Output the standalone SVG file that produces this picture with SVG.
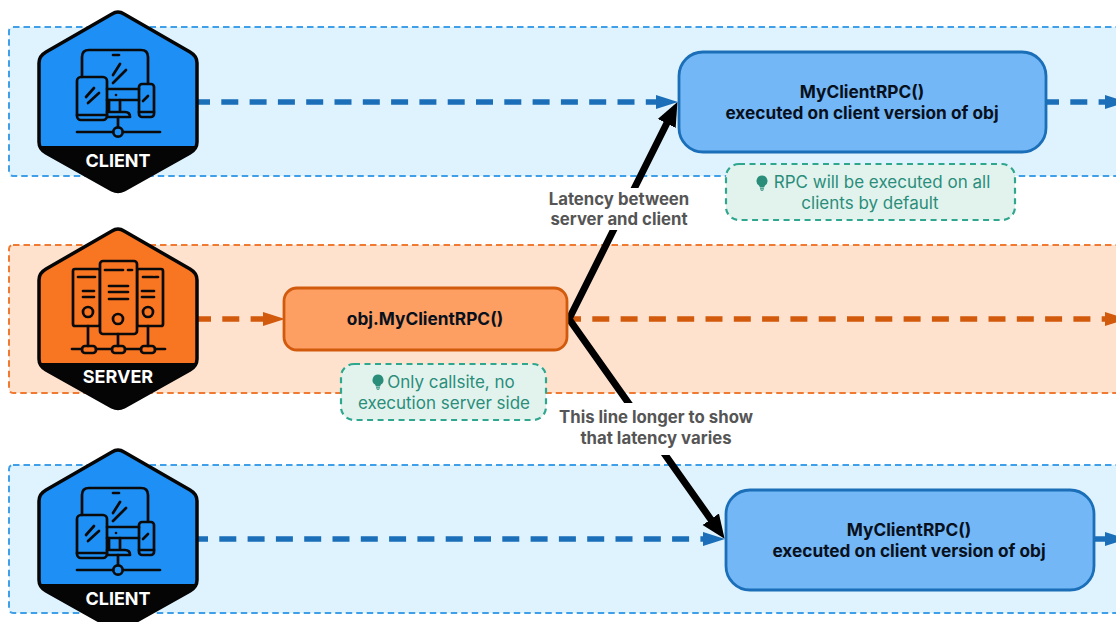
<svg xmlns="http://www.w3.org/2000/svg" width="1116" height="622" viewBox="0 0 1116 622">
<defs>
<style>
text{font-family:Inter,"Liberation Sans",sans-serif;text-anchor:middle}
.band-b{fill:#dff3fe;stroke:#3f9fe8;stroke-width:2;stroke-dasharray:6.500 4}
.band-o{fill:#ffe2ce;stroke:#f07a32;stroke-width:2;stroke-dasharray:6.500 4}
.hex{stroke:#050505;stroke-width:3.500;stroke-linejoin:round}
.ic{fill:none;stroke:#0a0a0a;stroke-width:2.700;stroke-linejoin:round;stroke-linecap:round}
.hl{font-size:18px;font-weight:700;fill:#fff}
.bb{fill:#73b7f6;stroke:#1a6fb8;stroke-width:2.800}
.bo{fill:#fd9e63;stroke:#d25a0c;stroke-width:2.800}
.bt{font-size:17.250px;font-weight:700;fill:#07101c}
.note{fill:#e2f3ee;stroke:#2fa78f;stroke-width:2.200;stroke-dasharray:6 4.500}
.nt{font-size:17px;fill:#2a8d7a}
.lat{font-size:16.750px;font-weight:700;fill:#555}
.db{fill:none;stroke:#1a6fb8;stroke-width:5.500;stroke-dasharray:17 11.300}
.do{fill:none;stroke:#d25a0c;stroke-width:5.500;stroke-dasharray:17 11.300}
.k{fill:none;stroke:#000;stroke-width:7;stroke-linecap:round}
.bulb{fill:#2a8d7a}
</style>
<marker id="ab" markerUnits="userSpaceOnUse" markerWidth="22" markerHeight="16" refX="2" refY="8" orient="auto"><path d="M0 1L22 8L0 15Z" fill="#1a6fb8"/></marker>
<marker id="ao" markerUnits="userSpaceOnUse" markerWidth="22" markerHeight="16" refX="2" refY="8" orient="auto"><path d="M0 1L22 8L0 15Z" fill="#d25a0c"/></marker>
<marker id="ak" markerUnits="userSpaceOnUse" markerWidth="24" markerHeight="22" refX="2" refY="11" orient="auto"><path d="M0 1L24 11L0 21Z" fill="#000"/></marker>
<path id="bulbIcon" class="bulb" d="M0-7.500a5.500 5.500 0 0 1 3 10.100L2 4.500H-2L-3 2.600A5.500 5.500 0 0 1 0-7.500ZM-2 5.300H2V6.500H-2ZM-1.200 7.200H1.200V8H-1.200Z"/>
<g id="clientIcon">
<path class="ic" d="M82 77V57Q82 50 89 50H141Q148 50 148 57V83M113 55H119M113 75L120 64M113 83L126 70M107 89H139M107 100H139"/>
<circle cx="116" cy="95" r="1.300" fill="#0a0a0a"/>
<path class="ic" d="M109 100V112M120 100V112M107 112H125Q130 112 130 117H107"/>
<rect class="ic" x="77" y="77" width="30" height="43" rx="4"/>
<path class="ic" d="M77 115H107M86 97L94 88M88 103L99 93"/>
<rect class="ic" x="139" y="84" width="15" height="33" rx="3"/>
<path class="ic" d="M139 112H154M143 101L148 96M118 117V127M77 132H113M123 132H160"/>
<circle class="ic" cx="118" cy="132" r="4.700"/>
</g>
</defs>
<g id="bands">
<rect class="band-b" x="9" y="27" width="1120" height="149" rx="4"/>
<rect class="band-o" x="9" y="245" width="1120" height="148" rx="4"/>
<rect class="band-b" x="9" y="465" width="1120" height="148" rx="4"/>
</g>
<g id="connectors">
<path class="db" d="M193 102H658" marker-end="url(#ab)"/>
<path class="db" d="M1042 102H1107" marker-end="url(#ab)"/>
<path class="do" d="M194 319H265" marker-end="url(#ao)"/>
<path class="do" d="M564 319H1107" marker-end="url(#ao)"/>
<path class="db" d="M191 539H705" marker-end="url(#ab)"/>
<path class="db" d="M1088 539H1107" marker-end="url(#ab)"/>
<path class="k" d="M569 319L667.600 121.800" marker-end="url(#ak)"/>
<path class="k" d="M569 319L711.900 520.900" marker-end="url(#ak)"/>
</g>
<g id="client-top">
<path class="hex" fill="#1e90f5" d="M112 14Q118 10 124 14L190 52Q197 56 197 63V142Q197 149 190 153L124 190Q118 193 112 190L46 153Q39 149 39 142V63Q39 56 46 52Z"/>
<path d="M39 146H197Q197 149 190 153L124 190Q118 193 112 190L46 153Q39 149 39 146Z" fill="#050505"/>
<use href="#clientIcon"/>
<text class="hl" x="118" y="167">CLIENT</text>
</g>
<g id="server">
<path class="hex" fill="#f87522" d="M112 231Q118 227 124 231L190 269Q197 273 197 280V359Q197 366 190 370L124 407Q118 410 112 407L46 370Q39 366 39 359V280Q39 273 46 269Z"/>
<path d="M39 363H197Q197 366 190 370L124 407Q118 410 112 407L46 370Q39 366 39 363Z" fill="#050505"/>
<g class="ic">
<rect x="73" y="269" width="27" height="57" rx="2"/><rect x="137" y="269" width="26" height="57" rx="2"/>
<rect x="100" y="261" width="37" height="73" rx="3" fill="#f87522"/>
<path d="M78 277H95M83 291H94M83 297H94M143 277H153M155 277H158M142 291H154M142 297H154M105 270H123M128 270H132M109 286H128M109 292H128M109 299H128"/>
<circle cx="88" cy="312" r="5"/><circle cx="148" cy="312" r="5"/><circle cx="118" cy="319" r="5"/>
<path d="M88 326V346M118 334V346M148 326V346M72 349H82M96 349H112M125 349H141M155 349H165"/>
<rect x="82" y="346" width="14" height="7" rx="3"/><rect x="112" y="346" width="13" height="7" rx="3"/><rect x="141" y="346" width="14" height="7" rx="3"/>
</g>
<text class="hl" x="118" y="383">SERVER</text>
</g>
<g id="client-bottom">
<path class="hex" fill="#1e90f5" d="M112 452Q118 448 124 452L190 490Q197 494 197 501V580Q197 587 190 591L124 628Q118 631 112 628L46 591Q39 587 39 580V501Q39 494 46 490Z"/>
<path d="M39 584H197Q197 587 190 591L124 628Q118 631 112 628L46 591Q39 587 39 584Z" fill="#050505"/>
<use href="#clientIcon" y="438"/>
<text class="hl" x="118" y="605">CLIENT</text>
</g>
<g id="rpc-top"><rect class="bb" x="679" y="52" width="367" height="100" rx="24"/><text class="bt" x="862" y="98">MyClientRPC()</text><text class="bt" x="862" y="119">executed on client version of obj</text></g>
<g id="note-top"><rect class="note" x="726" y="164" width="289" height="56" rx="13"/><use href="#bulbIcon" x="762" y="183"/><text class="nt" x="882" y="188">RPC will be executed on all</text><text class="nt" x="870" y="209">clients by default</text></g>
<g id="rpc-server"><rect class="bo" x="284" y="288" width="283" height="62" rx="13"/><text class="bt" x="425" y="325">obj.MyClientRPC()</text></g>
<g id="note-server"><rect class="note" x="341" y="364" width="205" height="56" rx="13"/><use href="#bulbIcon" x="378" y="382"/><text class="nt" x="451" y="388">Only callsite, no</text><text class="nt" x="444" y="409">execution server side</text></g>
<g id="rpc-bottom"><rect class="bb" x="726" y="490" width="368" height="100" rx="24"/><text class="bt" x="909" y="536">MyClientRPC()</text><text class="bt" x="909" y="557">executed on client version of obj</text></g>
<g id="labels">
<rect x="545" y="188" width="148" height="42" fill="#fff"/>
<rect x="556" y="403" width="201" height="52" fill="#fff"/>
<text class="lat" x="619" y="205">Latency between</text><text class="lat" x="619" y="225">server and client</text>
<text class="lat" x="656" y="423">This line longer to show</text><text class="lat" x="656" y="444">that latency varies</text>
</g>
</svg>
